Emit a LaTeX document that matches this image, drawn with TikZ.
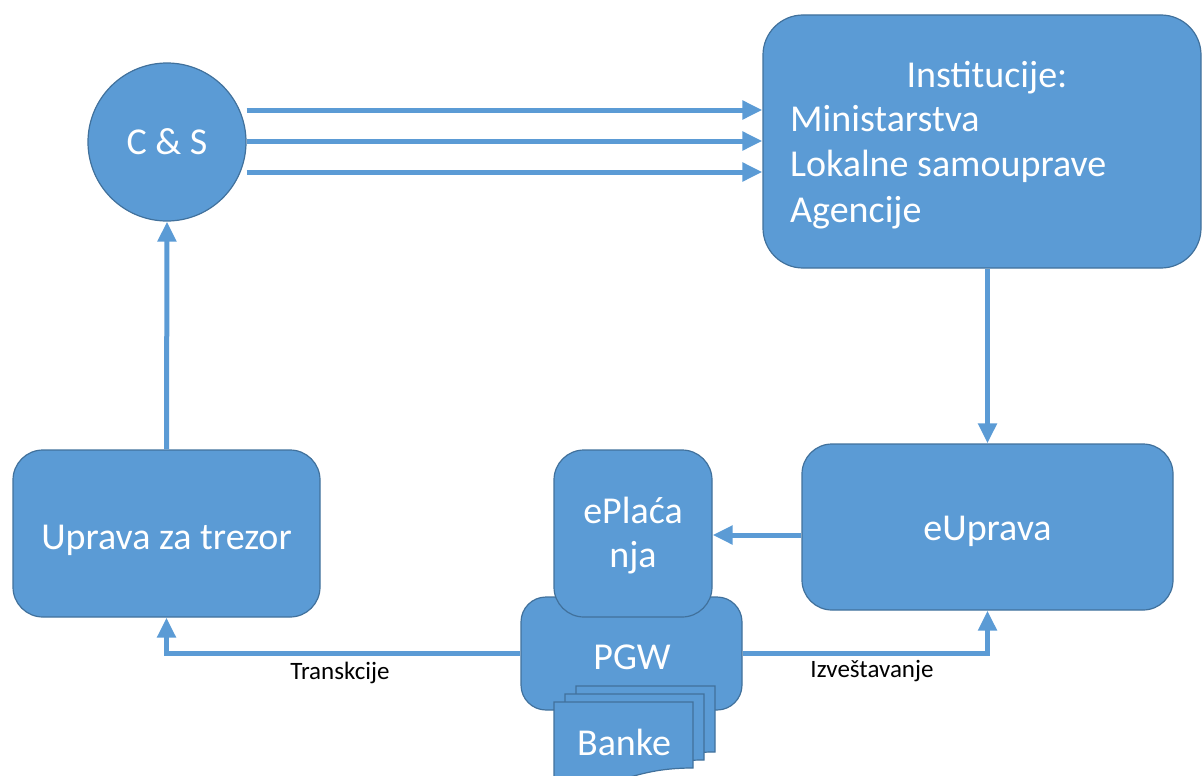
\documentclass[tikz,border=0pt]{standalone}
\usepackage{fontspec}
\setmainfont{Carlito}
\usetikzlibrary{arrows.meta}
\definecolor{fillb}{HTML}{5B9BD5}
\definecolor{edgeb}{HTML}{41719C}
\begin{document}
\begin{tikzpicture}[x=1pt,y=-1pt,
  box/.style={draw=edgeb, fill=fillb, line width=1.2pt, rounded corners=30pt, text=white, inner sep=0pt,
    font=\fontsize{38}{44}\selectfont, align=center},
  wtext/.style={text=white, inner sep=0pt, font=\fontsize{38}{45.5}\selectfont},
  arr/.style={draw=fillb, line width=5pt, -{Triangle[length=20pt,width=18pt]}},
  lbl/.style={font=\fontsize{25}{29}\selectfont, text=black, inner sep=0pt},
  docshape/.style={draw=edgeb, fill=fillb, line width=1.2pt}]
\useasboundingbox (0,0) rectangle (1202,776);
\clip (0,0) rectangle (1202,776);

% nodes
\node[box, circle, minimum size=158pt] (cs) at (167,142) {C \& S};
\node[box, rounded corners=40pt, minimum width=438pt, minimum height=253pt] (inst) at (982,141.5) {};
\node[wtext] (insttitle) at (987,78) {Institucije:};
\node[wtext, anchor=west, align=left] (instlist) at (790,167) {Ministarstva\\Lokalne samouprave\\Agencije};
\node[box, minimum width=307pt, minimum height=167pt, text height=31pt, text depth=0pt] (trezor) at (166.5,533.5) {Uprava za trezor};
\node[box, minimum width=371pt, minimum height=166pt, text height=26.5pt, text depth=0pt] (eupr) at (987.5,527) {eUprava};

% connectors behind PGW
\draw[arr] (trezor.north) -- (cs.south);
\draw[arr] (cs.east |- 0,110) -- (inst.west |- 0,110);
\draw[arr] (cs.east |- 0,141) -- (inst.west |- 0,141);
\draw[arr] (cs.east |- 0,172) -- (inst.west |- 0,172);
\draw[arr] (eupr.north |- inst.south) -- (eupr.north);

\node[box, rounded corners=25pt, minimum width=221pt, minimum height=113pt] (pgw) at (631.5,653.5) {};
\node[box, minimum width=158pt, minimum height=167pt] (eplac) at (633,533.5) {};
\node[wtext, align=center, font=\fontsize{38}{44}\selectfont] (eplactext) at (633,536) {ePlaća\\nja};
\node[wtext] (pgwtext) at (632,657) {PGW};

\draw[arr] (eupr.west |- 0,535) -- (eplac.east |- 0,535);
\draw[arr] (pgw.west) -| (trezor.south);
\draw[arr] (pgw.east) -| (eupr.south);
\node[lbl] (ltrans) at (340,673) {Transkcije};
\node[lbl] (lizv) at (872,671) {Izveštavanje};

% Banke (multi-document)
\foreach \dx/\dy in {576/686, 565/694, 554/702}{
  \begin{scope}[shift={(\dx,\dy)}]
    \path[docshape] (0,0) -- (139,0) -- (139,66)
      .. controls (69.5,66) and (69.5,91) .. (0,77) -- cycle;
  \end{scope}
}
\node[wtext] (banke) at (624,742) {Banke};
\end{tikzpicture}
\end{document}
